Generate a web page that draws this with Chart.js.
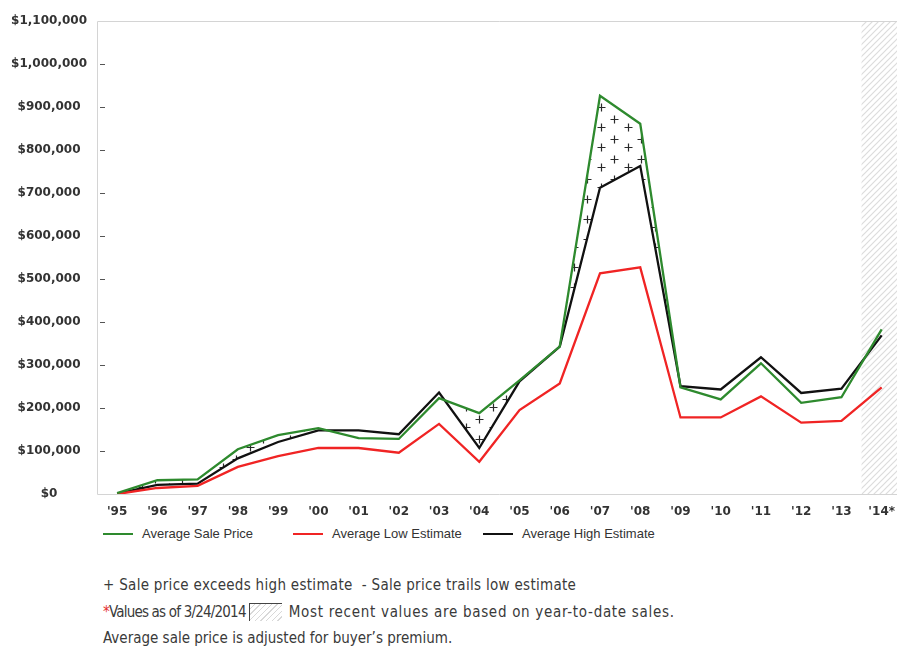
<!DOCTYPE html>
<html>
<head>
<meta charset="utf-8">
<title>Average sale price vs. estimates</title>
<script src="https://cdn.jsdelivr.net/npm/chart.js@4.4.1/dist/chart.umd.min.js"></script>
<style>
  html, body { margin: 0; padding: 0; background: #fff; overflow: hidden; }
  #wrap { position: relative; width: 897px; height: 650px; overflow: hidden; }
  #chartBox { position: absolute; left: 0; top: 0; width: 906px; height: 524px; }
  #legend { position: absolute; left: 103px; top: 524px; height: 20px;
            font: 13px "Liberation Sans", Arial, sans-serif; color: #333; white-space: nowrap; }
  #legend .item { display: inline-block; width: 190px; line-height: 20px; }
  #legend .swatch { display: inline-block; width: 30px; height: 2px; margin-right: 9px; vertical-align: middle; position: relative; top: -1px; }
  #notes { position: absolute; left: 103px; top: 572px; color: #3a3a3a;
           font: 15px "DejaVu Sans Condensed", "DejaVu Sans", sans-serif; line-height: 26.5px; white-space: nowrap; }
  #notes .l1 { letter-spacing: 0.3px; }
  #notes .asof { letter-spacing: -0.8px; }
  #notes .recent { letter-spacing: 0.7px; }
  #notes .star { color: #e53030; }
  #notes .box { display: inline-block; width: 32px; height: 17px; vertical-align: -4px; margin: 0 7px 0 3px;
                border-top: 1px solid #444; border-left: 1px solid #444;
                background: repeating-linear-gradient(135deg, #fff 0 3px, #d8d8d8 3px 4px); }
</style>
</head>
<body>
<div id="wrap">
  <div id="chartBox"><canvas id="priceChart"></canvas></div>
  <div id="legend"></div>
  <div id="notes">
    <div class="l1">+ Sale price exceeds high estimate&nbsp; - Sale price trails low estimate</div>
    <div><span class="asof"><span class="star">*</span>Values as of 3/24/2014</span><span class="box"></span><span class="recent">Most recent values are based on year-to-date sales.</span></div>
    <div>Average sale price is adjusted for buyer’s premium.</div>
  </div>
</div>
<script>
// yearly averages, 1995 through year-to-date 2014
const years = ["'95", "'96", "'97", "'98", "'99", "'00", "'01", "'02", "'03", "'04",
               "'05", "'06", "'07", "'08", "'09", "'10", "'11", "'12", "'13", "'14*"];
const avgSale = [2000, 32000, 34000, 104000, 137000, 153000, 130000, 128000, 223000, 188000,
                 264000, 343000, 926000, 861000, 248000, 220000, 304000, 212000, 225000, 383000];
const avgLow  = [0, 14000, 19000, 63000, 88000, 107000, 107000, 96000, 163000, 75000,
                 195000, 257000, 513000, 527000, 178000, 178000, 227000, 166000, 170000, 248000];
const avgHigh = [1000, 21000, 24000, 83000, 121000, 148000, 148000, 139000, 236000, 107000,
                 262000, 343000, 712000, 763000, 251000, 243000, 318000, 235000, 245000, 369000];

const GREEN = '#2e8a2e';
const RED = '#f02424';
const BLACK = '#111111';

// "+" marks where the sale price beats the high estimate
function plusPattern() {
  const c = document.createElement('canvas');
  c.width = 27; c.height = 20;
  const g = c.getContext('2d');
  g.strokeStyle = '#2a2a2a';
  g.lineWidth = 1.2;
  [[7, 7], [20, 19], [20, -1]].forEach(([x, y]) => {
    g.beginPath();
    g.moveTo(x - 3.5, y + 0.5); g.lineTo(x + 4.5, y + 0.5);
    g.moveTo(x + 0.5, y - 3.5); g.lineTo(x + 0.5, y + 4.5);
    g.stroke();
  });
  return g.createPattern(c, 'repeat');
}

function hatchPattern() {
  const c = document.createElement('canvas');
  c.width = 6; c.height = 6;
  const g = c.getContext('2d');
  g.strokeStyle = '#dcdcdc';
  g.lineWidth = 1.2;
  g.beginPath();
  g.moveTo(0, 6); g.lineTo(6, 0);
  g.moveTo(-1, 1); g.lineTo(1, -1);
  g.moveTo(5, 7); g.lineTo(7, 5);
  g.stroke();
  return g.createPattern(c, 'repeat');
}

const ctx = document.getElementById('priceChart').getContext('2d');
const plusFill = plusPattern();
const hatchFill = hatchPattern();

// shaded band for the partial (year-to-date) year
const ytdShade = {
  id: 'ytdShade',
  beforeDraw(chart) {
    const {ctx, chartArea, scales: {x}} = chart;
    const n = years.length;
    const x0 = (x.getPixelForValue(n - 2) + x.getPixelForValue(n - 1)) / 2;
    ctx.save();
    ctx.fillStyle = hatchFill;
    ctx.fillRect(x0, chartArea.top, chartArea.right - x0, chartArea.bottom - chartArea.top);
    ctx.restore();
  }
};

// light frame plus short inner tick marks on the value axis
const frame = {
  id: 'frame',
  afterDraw(chart) {
    const {ctx, chartArea: a, scales: {y}} = chart;
    ctx.save();
    ctx.strokeStyle = '#d4d4d4';
    ctx.lineWidth = 1;
    ctx.beginPath();
    ctx.moveTo(a.right, a.top + 0.5); ctx.lineTo(a.left + 0.5, a.top + 0.5);
    ctx.lineTo(a.left + 0.5, a.bottom + 0.5); ctx.lineTo(a.right, a.bottom + 0.5);
    ctx.stroke();
    ctx.strokeStyle = '#555';
    ctx.beginPath();
    y.ticks.forEach(t => {
      if (t.value <= y.min || t.value >= y.max) return;
      const py = Math.round(y.getPixelForValue(t.value)) + 0.5;
      ctx.moveTo(a.left + 3, py); ctx.lineTo(a.left + 8, py);
    });
    ctx.stroke();
    ctx.restore();
  }
};

const tickFont = { family: '"DejaVu Sans", Verdana, sans-serif', weight: 'bold', size: 12 };

const chart = new Chart(ctx, {
  type: 'line',
  data: {
    labels: years,
    datasets: [
      {
        label: 'Average Sale Price',
        data: avgSale,
        borderColor: GREEN,
        backgroundColor: GREEN,
        fill: { target: 2, above: plusFill, below: 'rgba(0,0,0,0)' }
      },
      {
        label: 'Average Low Estimate',
        data: avgLow,
        borderColor: RED,
        backgroundColor: RED,
        fill: false
      },
      {
        label: 'Average High Estimate',
        data: avgHigh,
        borderColor: BLACK,
        backgroundColor: BLACK,
        fill: false
      }
    ]
  },
  options: {
    responsive: true,
    maintainAspectRatio: false,
    animation: false,
    layout: { padding: { top: 21, left: 0, right: 0, bottom: 0 } },
    elements: {
      line: { borderWidth: 2.3, tension: 0 },
      point: { radius: 0, hoverRadius: 0 }
    },
    plugins: {
      legend: { display: false },
      tooltip: { enabled: false },
      filler: { drawTime: 'beforeDatasetsDraw' }
    },
    scales: {
      x: {
        offset: true,
        grid: { display: false, drawTicks: false },
        border: { display: false },
        ticks: { padding: 11, color: '#333', font: tickFont, maxRotation: 0, autoSkip: false },
        afterFit(s) { s.height = 30; }
      },
      y: {
        min: 0,
        max: 1100000,
        grid: { display: false, drawTicks: false },
        border: { display: false },
        ticks: {
          stepSize: 100000,
          padding: 10,
          crossAlign: 'center',
          color: '#333',
          font: tickFont,
          callback: v => '$' + v.toLocaleString('en-US')
        },
        afterFit(s) { s.width = 97; }
      }
    }
  },
  plugins: [ytdShade, frame]
});

// legend row built from the chart's own datasets
const legendEl = document.getElementById('legend');
chart.data.datasets.forEach(ds => {
  const item = document.createElement('span');
  item.className = 'item';
  const sw = document.createElement('span');
  sw.className = 'swatch';
  sw.style.background = ds.borderColor;
  item.appendChild(sw);
  item.appendChild(document.createTextNode(ds.label));
  legendEl.appendChild(item);
});
</script>
</body>
</html>
